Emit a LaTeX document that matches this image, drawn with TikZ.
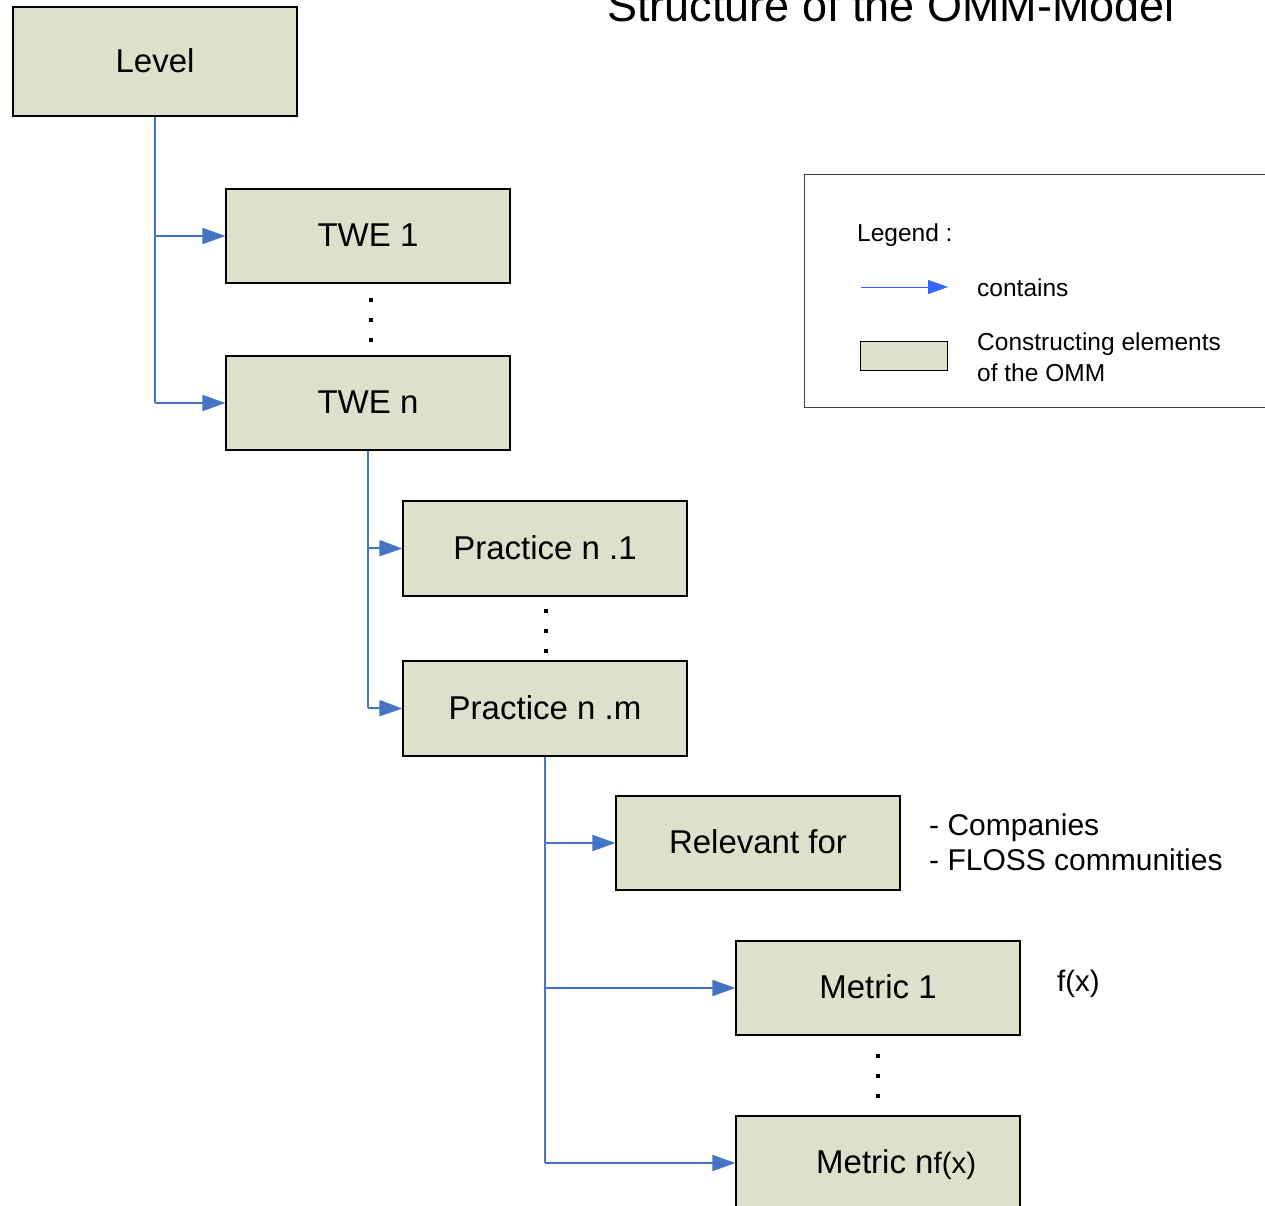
\documentclass[tikz,border=0pt]{standalone}
\usepackage{fontspec}
\setmainfont{Liberation Sans}
\usetikzlibrary{arrows.meta}
\definecolor{boxfill}{RGB}{221,225,203}
\definecolor{linkblue}{RGB}{70,116,196}
\definecolor{legblue}{RGB}{51,102,255}
\begin{document}
\begin{tikzpicture}[x=1pt,y=-1pt,
  elem/.style={draw=black,line width=1.2pt,fill=boxfill,minimum width=284pt,minimum height=94pt,inner sep=0pt,font=\fontsize{33}{38}\selectfont,text depth=2pt},
  link/.style={draw=linkblue,line width=2pt,-{Triangle[length=23pt,width=16pt]}},
  trunk/.style={draw=linkblue,line width=2pt},
  dotm/.style={fill=black,minimum size=3.5pt,inner sep=0pt,draw=none,shape=rectangle},
  side/.style={font=\fontsize{30}{36}\selectfont,anchor=base west,inner sep=0pt},
  leg/.style={font=\fontsize{24.5}{31}\selectfont,anchor=base west,inner sep=0pt}]
\useasboundingbox (0,0) rectangle (1265,1206);
\clip (0,0) rectangle (1265,1206);
\fill[white] (0,0) rectangle (1265,1206);

% title (cut off at the top edge, as in the reference)
\node[font=\fontsize{45}{50}\selectfont,anchor=base west,inner sep=0pt] (title) at (607,22) {Structure of the OMM-Model};

% boxes
\node[elem,minimum height=109pt] (level) at (155,61.5) {Level};
\node[elem] (twe1) at (368,236) {TWE 1};
\node[elem] (twen) at (368,403) {TWE n};
\node[elem,minimum height=95pt] (p1) at (545,548.5) {Practice n .1};
\node[elem,minimum height=95pt] (pm) at (545,708.5) {Practice n .m};
\node[elem] (rel) at (758,843) {Relevant for};
\node[elem] (m1) at (878,988) {Metric 1};
\node[elem] (mn) at (878,1163) {};
\node[font=\fontsize{33}{38}\selectfont,anchor=base west,inner sep=0pt] (mntext) at (816,1173) {Metric n\fontsize{29.5}{34}\selectfont f(x)};

% dots
\foreach \y [count=\i] in {300,320,340} \node[dotm] (da\i) at (371,\y) {};
\foreach \y [count=\i] in {611,631,651} \node[dotm] (db\i) at (546,\y) {};
\foreach \y [count=\i] in {1056,1076,1096} \node[dotm] (dc\i) at (878,\y) {};

% connectors
\coordinate (t1) at (155,403);
\draw[trunk] (level.south) -- (t1);
\draw[link] (155,236) -- (twe1.west);
\draw[link] (t1) -- (twen.west);

\coordinate (t2) at (368,708);
\draw[trunk] (twen.south) -- (t2);
\draw[link] (368,548) -- (p1.west);
\draw[link] (t2) -- (pm.west);

\coordinate (t3) at (545,1163);
\draw[trunk] (pm.south) -- (t3);
\draw[link] (545,843) -- (rel.west);
\draw[link] (545,988) -- (m1.west);
\draw[link] (t3) -- (mn.west);

% side texts
\node[side] (comp) at (929,835) {- Companies};
\node[side] (floss) at (929,870) {- FLOSS communities};
\node[side,font=\fontsize{29.5}{34}\selectfont] (fx) at (1057,991) {f(x)};

% legend
\node[draw=black!75,line width=1.3pt,minimum width=480pt,minimum height=233pt,inner sep=0pt,anchor=north west] (legend) at (804,174) {};
\node[leg] (legtitle) at (857,242) {Legend :};
\coordinate (la) at (861,287);
\coordinate (lb) at (948,287);
\draw[draw=legblue,line width=1pt,-{Triangle[length=20pt,width=14pt]}] (la) -- (lb);
\node[leg] (legc) at (977,296) {contains};
\node[draw=black,line width=1pt,fill=boxfill,minimum width=87pt,minimum height=29pt,inner sep=0pt,anchor=north west] (swatch) at (860,341) {};
\node[leg] (lege1) at (977,350) {Constructing elements};
\node[leg] (lege2) at (977,381) {of the OMM};
\end{tikzpicture}
\end{document}
